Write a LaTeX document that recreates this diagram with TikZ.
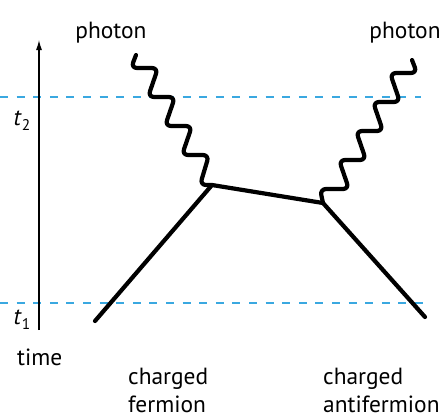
\documentclass[tikz,border=0pt]{standalone}
\usepackage{fontspec}
\setmainfont{PT Sans}
\usetikzlibrary{arrows.meta}
\definecolor{dashblue}{HTML}{3AA8E0}
\begin{document}
\begin{tikzpicture}[x=1bp,y=-1bp,
  lbl/.style={font=\fontsize{23.5}{23.5}\selectfont, inner sep=0pt},
  particle/.style={line width=4.2bp, line cap=round, line join=round},
  photonline/.style={particle, rounded corners=6bp},
  timeline/.style={dashed, dashblue, line width=1.3bp, dash pattern=on 8bp off 8.6bp},
  axis/.style={line width=1.1bp, -{Latex[length=10bp,width=6bp]}}]
\useasboundingbox (0,0) rectangle (446,417);
% time levels
\coordinate (t2a) at (0,97);  \coordinate (t2b) at (421,97);
\coordinate (t1a) at (0,303); \coordinate (t1b) at (431,303);
\draw[timeline] (t2a) -- (t2b);
\draw[timeline] (t1a) -- (t1b);
% time axis
\coordinate (axb) at (39,330); \coordinate (axt) at (39,40);
\draw[axis] (axb) -- (axt);
% vertices and ends
\coordinate (vl) at (212,185);
\coordinate (vr) at (323,203);
\coordinate (fl) at (95,321);
\coordinate (fr) at (425,317);
\draw[particle] (fl) -- (vl) -- (vr) -- (fr);
% photons
\coordinate (pl) at (136,55);
\coordinate (pr) at (412,60);
\draw[photonline] (pl) -- (131,68) -- (158,68) -- (148,97) -- (175,97) -- (165,126)
  -- (192,126) -- (182,155) -- (209,155) -- (200,185) -- (vl);
\draw[photonline] (pr) -- (417,73) -- (390,73) -- (400,102) -- (373,102) -- (383,131)
  -- (356,131) -- (366,160) -- (339,160) -- (349,189) -- (320,189) -- (vr);
% labels
\node[lbl, anchor=base] (phl) at (111,38) {photon};
\node[lbl, anchor=base] (phr) at (405,38) {photon};
\node[lbl, anchor=base] (lt2) at (22,125) {\textit{t}\raisebox{-5bp}{\fontsize{15.5}{15.5}\selectfont 2}};
\node[lbl, anchor=base] (lt1) at (22,324) {\textit{t}\raisebox{-5bp}{\fontsize{15.5}{15.5}\selectfont 1}};
\node[lbl, anchor=base west] (ltime) at (17,365) {time};
\node[lbl, anchor=base west] (cl1) at (128,384) {charged};
\node[lbl, anchor=base west] (cl2) at (128,412) {fermion};
\node[lbl, anchor=base west] (cr1) at (323,384) {charged};
\node[lbl, anchor=base west] (cr2) at (323,412) {antifermion};
\end{tikzpicture}
\end{document}
